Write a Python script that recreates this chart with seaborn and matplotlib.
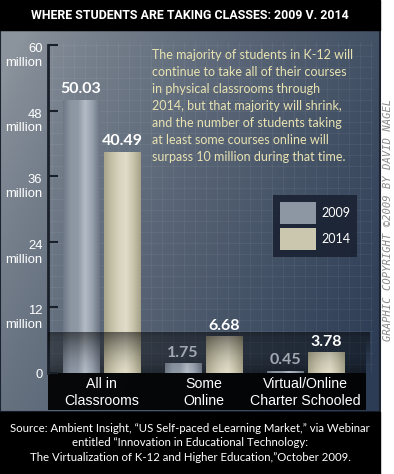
import numpy as np
import pandas as pd
import seaborn as sns
import matplotlib
matplotlib.use("Agg", force=True)
import matplotlib.pyplot as plt
from matplotlib.colors import LinearSegmentedColormap, to_rgb
from matplotlib.transforms import ScaledTranslation

# data
categories = ["All in\nClassrooms", "Some\nOnline", "Virtual/Online\nCharter Schooled"]
years = ["2009", "2014"]
students_2009 = [50.03, 1.75, 0.45]
students_2014 = [40.49, 6.68, 3.78]
y_ticks = [0, 12, 24, 36, 48, 60]
y_tick_labels = ["0", "12\nmillion", "24\nmillion", "36\nmillion", "48\nmillion", "60\nmillion"]

title = "WHERE STUDENTS ARE TAKING CLASSES: 2009 V. 2014"
note = ("The majority of students in K-12 will\n"
        "continue to take all of their courses\n"
        "in physical classrooms through\n"
        "2014, but that majority will shrink,\n"
        "and the number of students taking\n"
        "at least some courses online will\n"
        "surpass 10 million during that time.")
source = ("Source: Ambient Insight, \u201cUS Self-paced eLearning Market,\u201d via Webinar\n"
          "entitled \u201cInnovation in Educational Technology:\n"
          "The Virtualization of K-12 and Higher Education,\u201dOctober 2009.")
credit = "GRAPHIC COPYRIGHT \u00a92009 BY DAVID NAGEL"

df = pd.DataFrame({
    "category": categories * 2,
    "year": [years[0]] * 3 + [years[1]] * 3,
    "students": students_2009 + students_2014,
})

sns.set_theme(style="white")
plt.rcParams["font.family"] = ["Liberation Sans", "DejaVu Sans"]

W, H = 394, 474
fig = plt.figure(figsize=(W / 100, H / 100), dpi=100)
fig.patch.set_facecolor("white")

# background layer in pixel coordinates
bg = fig.add_axes([0, 0, 1, 1])
bg.set_xlim(0, W)
bg.set_ylim(H, 0)
bg.axis("off")

xx, yy = np.meshgrid(np.linspace(0, 1, 200), np.linspace(0, 1, 200))
t = np.clip(0.75 * xx + 0.35 * yy - 0.05, 0, 1) ** 0.8
light = np.array(to_rgb("#8b939c"))
dark = np.array(to_rgb("#2c3c54"))
grad = light * (1 - t[..., None]) + dark * t[..., None]
bg.imshow(grad, extent=(0, 380, 412, 30), aspect="auto", zorder=0)
bg.add_patch(plt.Rectangle((0, 30), 380, 382, fill=False, ec="#1b2230", lw=1.5, zorder=1))

# faint grid
for gx in np.arange(52, 372, 11):
    bg.plot([gx, gx], [42, 372], color="white", alpha=0.05, lw=0.8, zorder=1)
for gy in np.arange(45, 372, 11):
    bg.plot([48, 372], [gy, gy], color="white", alpha=0.05, lw=0.8, zorder=1)

# dark label band under the axis
ramp = np.concatenate([np.linspace(0.05, 0.55, 35), np.full(37, 0.93)])
band = np.zeros((ramp.size, 2, 4))
band[..., 3] = ramp[:, None]
bg.imshow(band, extent=(48, 366, 410, 338), aspect="auto", zorder=2)

bg.add_patch(plt.Rectangle((0, 0), 380, 30, color="black", zorder=3))
bg.add_patch(plt.Rectangle((0, 412), 380, 62, color="black", zorder=3))
bg.text(190, 15.5, title, color="white", fontsize=8.9, fontweight="bold",
        family=["Roboto", "DejaVu Sans"], ha="center", va="center", zorder=4)
bg.text(190, 443, source, color="white", fontsize=8.2, family=["Lato", "DejaVu Sans"],
        ha="center", va="center", linespacing=1.42, zorder=4)
bg.text(388, 220, credit, color="#8a8a8a", fontsize=7.6, style="italic", rotation=90,
        family=["DejaVu Sans Mono"], ha="center", va="center", zorder=4)
bg.text(152, 106, note, color="#e9e3b2", fontsize=9.0, family=["Lato", "DejaVu Sans"],
        ha="left", va="center", linespacing=1.5, zorder=4)

# main chart
ax = fig.add_axes([48 / W, (H - 373) / H, (370 - 48) / W, (373 - 45) / H])
ax.patch.set_alpha(0)
sns.barplot(data=df, x="category", y="students", hue="year", order=categories,
            hue_order=years, palette=["#8d96a3", "#cbc7ae"], width=0.8, gap=0.1,
            saturation=1, edgecolor="none", ax=ax)

profiles = {
    "2009": ["#6f7886", "#8c95a2", "#8f98a5", "#b3bbc6", "#97a0ad", "#6c7583"],
    "2014": ["#a9a58d", "#c4c0a7", "#d6d2bc", "#e0dcc8", "#c8c4ab", "#a6a28a"],
}
for cont, yr in zip(ax.containers, years):
    cmap = LinearSegmentedColormap.from_list(yr, profiles[yr])
    for bar in cont:
        x0, y0 = bar.get_x(), bar.get_y()
        x1, y1 = x0 + bar.get_width(), y0 + bar.get_height()
        img = ax.imshow(np.linspace(0, 1, 64)[None, :], cmap=cmap, aspect="auto",
                        extent=(x0, x1, y0, y1), zorder=2)
        img.set_clip_path(bar)

# darkening near the zero line
fade = np.zeros((60, 2, 4))
fade[..., 3] = np.linspace(0, 0.65, 60)[:, None] ** 1.5
ax.imshow(fade, extent=(-0.525, 2.632, 7.5, 0), aspect="auto", zorder=3)

ax.set_xlim(-0.525, 2.632)
ax.set_ylim(0, 60)

label_colors = {"2009": ["white", "#a3a9b2", "#a3a9b2"], "2014": ["white", "white", "white"]}
for cont, yr in zip(ax.containers, years):
    texts = ax.bar_label(cont, fmt="%.2f", padding=2.5, fontsize=11.5, fontweight="bold",
                         family=["Lato", "DejaVu Sans"], zorder=5)
    for txt, c in zip(texts, label_colors[yr]):
        txt.set_color(c)

ax.set_yticks(y_ticks)
ax.set_yticklabels(y_tick_labels)
ax.tick_params(axis="y", direction="in", length=7, width=1.5, color="#1a202a",
               labelcolor="white", labelsize=9.4, pad=4, left=True)
for lab in ax.get_yticklabels():
    lab.set_horizontalalignment("right")
    lab.set_multialignment("right")
    if "\n" in lab.get_text():
        lab.set_transform(lab.get_transform() + ScaledTranslation(0, -0.085, fig.dpi_scale_trans))

ax.tick_params(axis="x", length=0, labelcolor="white", labelsize=10.2, pad=3)
for lab in ax.get_xticklabels():
    lab.set_linespacing(1.25)
ax.set_xlabel("")
ax.set_ylabel("")
for side in ["top", "right", "bottom"]:
    ax.spines[side].set_visible(False)
ax.spines["left"].set_color("#1a202a")
ax.spines["left"].set_linewidth(2)

handles, labels = ax.get_legend_handles_labels()
leg = ax.legend(handles, labels, loc="upper left", bbox_to_anchor=(273 / W, 1 - 195 / H),
                bbox_transform=fig.transFigure, borderaxespad=0, frameon=True, fontsize=9,
                handlelength=2.9, handleheight=2.3, labelspacing=0.35, borderpad=0.55,
                handletextpad=0.4, facecolor="#1a2232", edgecolor="none", framealpha=0.9,
                fancybox=False)
for txt in leg.get_texts():
    txt.set_color("white")
    txt.set_family(["Lato", "DejaVu Sans"])

fig.savefig("out.png", dpi=100)
